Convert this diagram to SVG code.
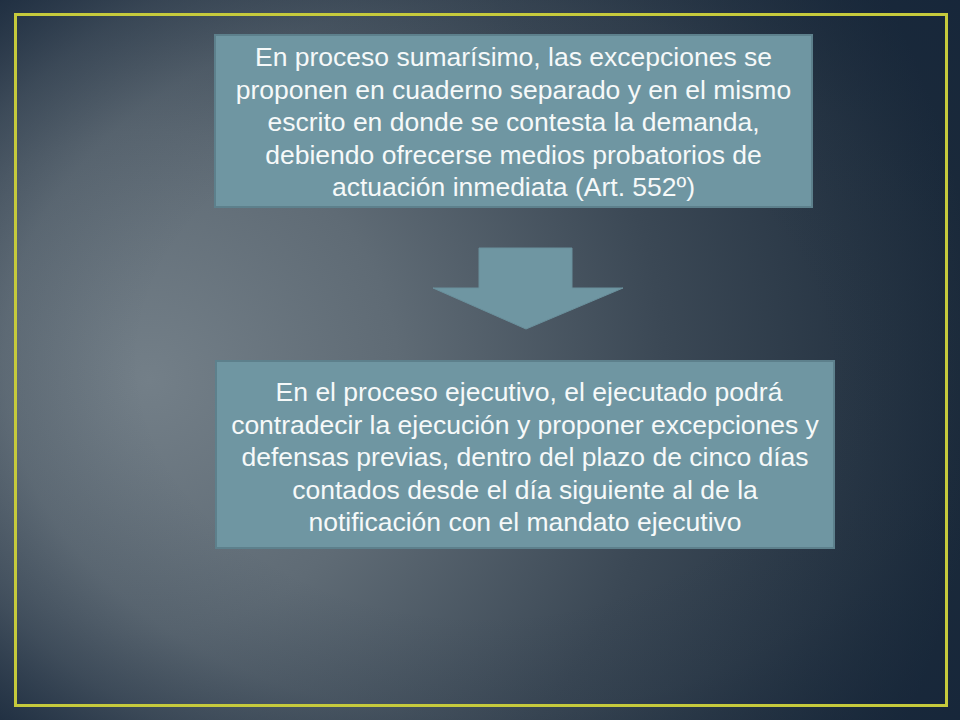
<svg xmlns="http://www.w3.org/2000/svg" width="960" height="720" viewBox="0 0 960 720">
  <defs>
    <radialGradient id="bgMain" gradientUnits="userSpaceOnUse" cx="150" cy="380" r="830">
      <stop offset="0" stop-color="#737f88"/>
      <stop offset="0.3" stop-color="#5f6b75"/>
      <stop offset="0.62" stop-color="#3b4855"/>
      <stop offset="1" stop-color="#1b2a3a"/>
    </radialGradient>
    <radialGradient id="vignette" gradientUnits="userSpaceOnUse" cx="480" cy="360" r="680" gradientTransform="translate(480 360) scale(1 0.75) translate(-480 -360)">
      <stop offset="0" stop-color="#16263a" stop-opacity="0"/>
      <stop offset="0.5" stop-color="#16263a" stop-opacity="0"/>
      <stop offset="0.7" stop-color="#16263a" stop-opacity="0.12"/>
      <stop offset="0.85" stop-color="#16263a" stop-opacity="0.4"/>
      <stop offset="1" stop-color="#16263a" stop-opacity="0.8"/>
    </radialGradient>
    <style>
      .box { fill: #6f96a2; stroke: #5d808c; stroke-width: 2; }
      .arrow { fill: #6f96a2; stroke: #6a909c; stroke-width: 1; }
      .txt { font-family: "Liberation Sans", Arial, sans-serif; font-size: 26.5px; fill: #f6f9f9; text-anchor: middle; }
    </style>
  </defs>

  <rect x="0" y="0" width="960" height="720" fill="url(#bgMain)"/>
  <rect x="0" y="0" width="960" height="720" fill="url(#vignette)"/>
  <rect x="15.5" y="14.5" width="931" height="691" fill="none" stroke="#c6ca3c" stroke-width="3"/>

  <g id="node-sumarisimo">
    <rect class="box" x="215" y="35" width="597" height="172"/>
    <text class="txt" x="513.5" y="66">En proceso sumarísimo, las excepciones se</text>
    <text class="txt" x="513.5" y="98.5">proponen en cuaderno separado y en el mismo</text>
    <text class="txt" x="513.5" y="131">escrito en donde se contesta la demanda,</text>
    <text class="txt" x="513.5" y="163.5">debiendo ofrecerse medios probatorios de</text>
    <text class="txt" x="513.5" y="196">actuación inmediata (Art. 552º)</text>
  </g>

  <g id="connectors">
    <polygon class="arrow" points="479,248 572,248 572,288 623,288 526,329 433,288 479,288"/>
  </g>

  <g id="node-ejecutivo">
    <rect class="box" x="216" y="361" width="618" height="187"/>
    <text class="txt" x="529" y="401">En el proceso ejecutivo, el ejecutado podrá</text>
    <text class="txt" x="525" y="433.5">contradecir la ejecución y proponer excepciones y</text>
    <text class="txt" x="525" y="466">defensas previas, dentro del plazo de cinco días</text>
    <text class="txt" x="525" y="498.5">contados desde el día siguiente al de la</text>
    <text class="txt" x="525" y="531">notificación con el mandato ejecutivo</text>
  </g>
</svg>
